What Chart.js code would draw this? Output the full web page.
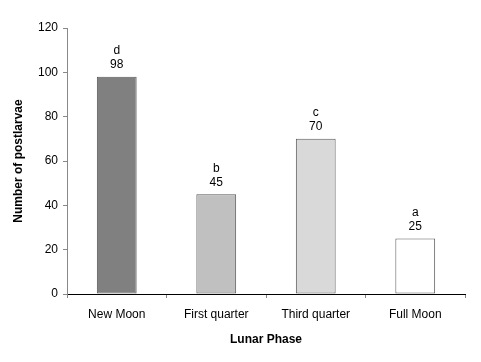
<!DOCTYPE html>
<html>
<head>
<meta charset="utf-8">
<script src="https://cdn.jsdelivr.net/npm/chart.js@4"></script>
<style>
  html, body { margin: 0; padding: 0; background: #fff; }
  #wrap { width: 481px; height: 362px; }
</style>
</head>
<body>
<div id="wrap"><canvas id="chart" width="481" height="362"></canvas></div>
<script>
const phases = ['New Moon', 'First quarter', 'Third quarter', 'Full Moon'];
const postlarvae = [98, 45, 70, 25];
const letters = ['d', 'b', 'c', 'a'];
const barColors = ['#808080', '#c0c0c0', '#d9d9d9', '#ffffff'];

Chart.defaults.font.family = '"Liberation Sans", Arial, sans-serif';
Chart.defaults.font.size = 12;
Chart.defaults.color = '#000';

// letter + value above each bar
const barLabels = {
  id: 'barLabels',
  afterDatasetsDraw(chart) {
    const ctx = chart.ctx;
    const meta = chart.getDatasetMeta(0);
    ctx.save();
    ctx.font = '12px "Liberation Sans", Arial, sans-serif';
    ctx.fillStyle = '#000';
    ctx.textAlign = 'center';
    ctx.textBaseline = 'middle';
    meta.data.forEach((bar, i) => {
      ctx.fillText(String(postlarvae[i]), bar.x, bar.y - 12);
      ctx.fillText(letters[i], bar.x, bar.y - 26);
    });
    ctx.restore();
  }
};

new Chart(document.getElementById('chart'), {
  type: 'bar',
  data: {
    labels: phases,
    datasets: [{
      data: postlarvae,
      backgroundColor: barColors,
      borderColor: '#595959',
      borderWidth: 1,
      borderSkipped: false,
      categoryPercentage: 1,
      barPercentage: 0.4
    }]
  },
  options: {
    responsive: false,
    animation: false,
    layout: { padding: { top: 28, right: 16, left: 11, bottom: 11 } },
    plugins: { legend: { display: false }, tooltip: { enabled: false } },
    scales: {
      x: {
        grid: { display: true, drawOnChartArea: false, drawTicks: true, tickLength: 4, color: '#888', offset: true },
        border: { display: true, color: '#000', width: 1 },
        ticks: { padding: 9, color: '#000' },
        title: { display: true, text: 'Lunar Phase', font: { weight: 'bold', size: 12 }, color: '#000', padding: { top: 6 } },
        afterFit(scale) { scale.height = 57; }
      },
      y: {
        min: 0,
        max: 120,
        ticks: { stepSize: 20, padding: 5, color: '#000' },
        grid: { display: true, drawOnChartArea: false, drawTicks: true, tickLength: 4, color: '#888' },
        border: { display: true, color: '#888', width: 1 },
        title: { display: true, text: 'Number of postlarvae', font: { weight: 'bold', size: 12 }, color: '#000', padding: 0 },
        afterFit(scale) { scale.width = 56; }
      }
    }
  },
  plugins: [barLabels]
});
</script>
</body>
</html>
